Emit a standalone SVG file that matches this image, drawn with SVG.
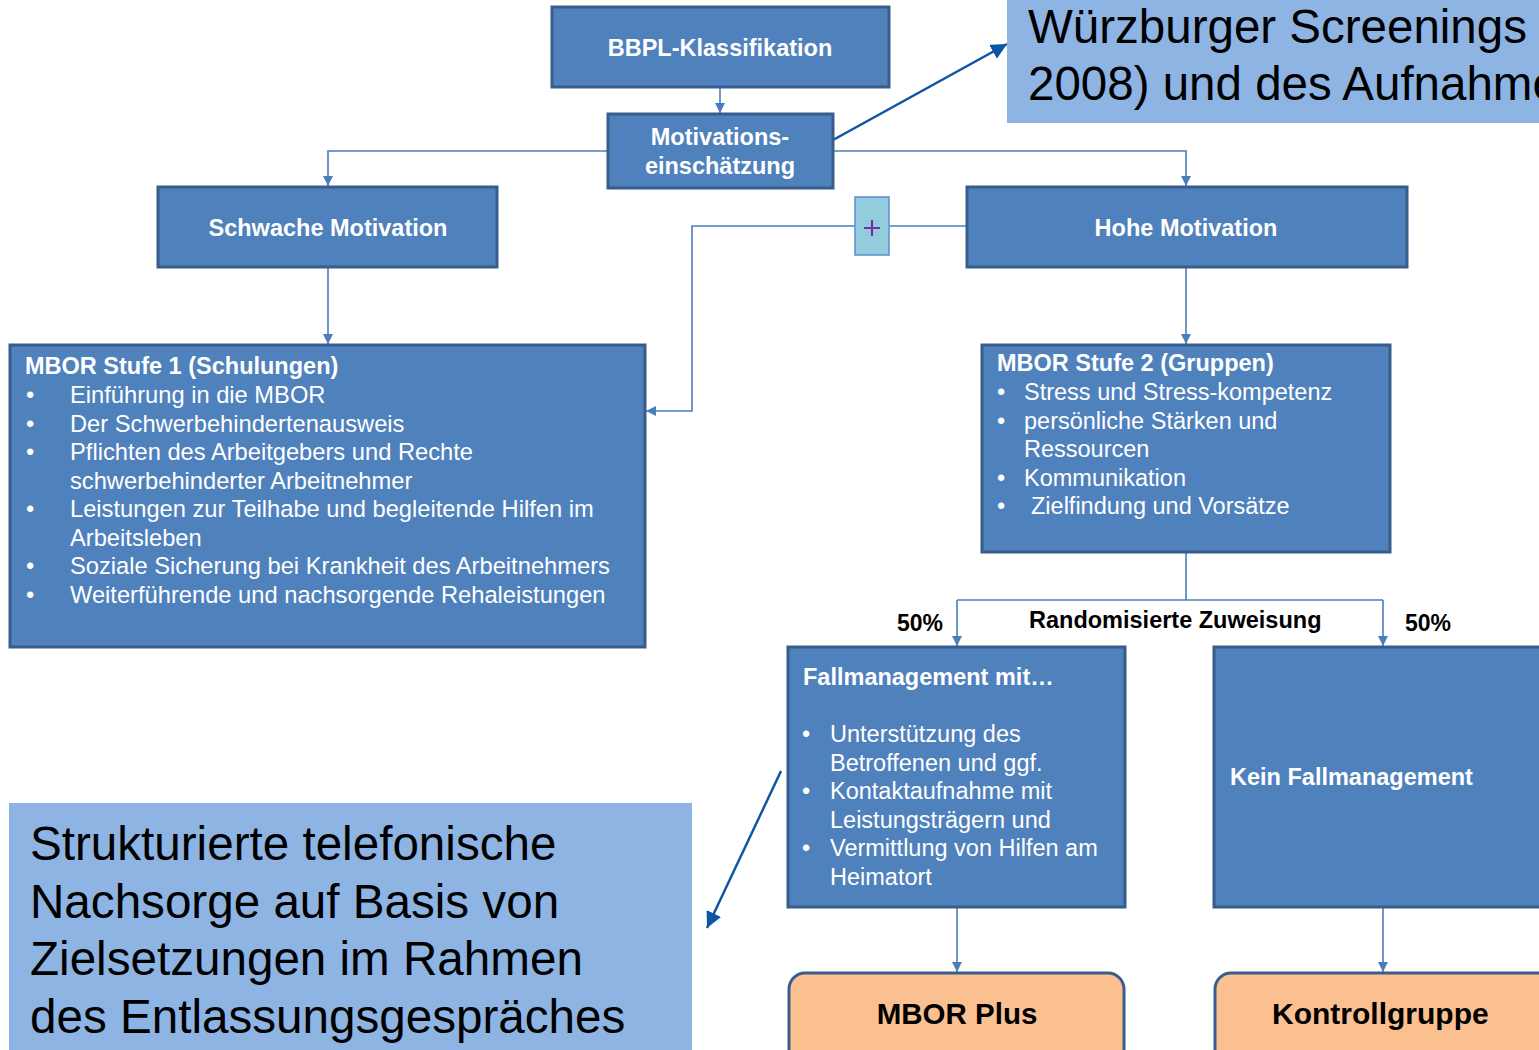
<svg xmlns="http://www.w3.org/2000/svg" width="1539" height="1050" viewBox="0 0 1539 1050">
<style>
.node{fill:#4f81bd;stroke:#385d8a;stroke-width:3}
.term{fill:#fac090;stroke:#385d8a;stroke-width:3}
.call{fill:#8db4e2}
.con{fill:none;stroke:#4a7ebb;stroke-width:1.6}
.cal{fill:none;stroke:#0d56a3;stroke-width:2.5}
.w{font-family:"Liberation Sans",Arial,sans-serif;fill:#fff;font-size:23.5px}
.s1{font-size:23.7px}
.b{font-weight:bold}
.k{font-family:"Liberation Sans",Arial,sans-serif;fill:#000}
.c{text-anchor:middle}
</style>
<defs>
<marker id="ar" viewBox="0 0 10 10" refX="10" refY="5" markerWidth="10" markerHeight="10" markerUnits="userSpaceOnUse" orient="auto"><path d="M0,0 L10,5 L0,10 z" fill="#4a7ebb"/></marker>
<marker id="ac" viewBox="0 0 10 10" refX="10" refY="5" markerWidth="16" markerHeight="16" markerUnits="userSpaceOnUse" orient="auto"><path d="M0,0 L10,5 L0,10 z" fill="#0d56a3"/></marker>
</defs>

<g id="connectors">
<path class="con" d="M720,87 V113" marker-end="url(#ar)"/>
<path class="con" d="M608,151 H328 V186" marker-end="url(#ar)"/>
<path class="con" d="M833,151 H1186 V186" marker-end="url(#ar)"/>
<path class="con" d="M328,267 V344" marker-end="url(#ar)"/>
<path class="con" d="M1186,267 V344" marker-end="url(#ar)"/>
<path class="con" d="M967,226 H889"/>
<path class="con" d="M855,226 H692 V411 H646" marker-end="url(#ar)"/>
<path class="con" d="M1186,552 V600"/>
<path class="con" d="M957,600 H1383"/>
<path class="con" d="M957,600 V646" marker-end="url(#ar)"/>
<path class="con" d="M1383,600 V646" marker-end="url(#ar)"/>
<path class="con" d="M957,907 V972" marker-end="url(#ar)"/>
<path class="con" d="M1383,907 V972" marker-end="url(#ar)"/>
<path class="cal" d="M833,140 L1007,44" marker-end="url(#ac)"/>
<path class="cal" d="M781,771 L707,928" marker-end="url(#ac)"/>
</g>

<g id="callout-top">
<rect class="call" x="1007" y="0" width="560" height="123"/>
<text class="k" x="1028" y="43" font-size="47.5">Würzburger Screenings</text>
<text class="k" x="1028" y="100" font-size="47.5">2008) und des Aufnahme</text>
</g>

<g id="bbpl">
<rect class="node" x="552" y="7" width="337" height="80"/>
<text class="w b c" x="720" y="56">BBPL-Klassifikation</text>
</g>

<g id="motivation">
<rect class="node" x="608" y="114" width="225" height="74"/>
<text class="w b c" x="720" y="145">Motivations-</text>
<text class="w b c" x="720" y="174">einschätzung</text>
</g>

<g id="schwach">
<rect class="node" x="158" y="187" width="339" height="80"/>
<text class="w b c" x="328" y="236">Schwache Motivation</text>
</g>

<g id="plus">
<rect x="855" y="197" width="34" height="58" fill="#93cddd" stroke="#5b8fcf" stroke-width="1.5"/>
<path d="M864,228 H880 M872,220 V236" stroke="#7030a0" stroke-width="2.2"/>
</g>

<g id="hoch">
<rect class="node" x="967" y="187" width="440" height="80"/>
<text class="w b c" x="1186" y="236">Hohe Motivation</text>
</g>

<g id="stufe1">
<rect class="node" x="10" y="345" width="635" height="302"/>
<text class="w b" x="25" y="374">MBOR Stufe 1 (Schulungen)</text>
<g class="w s1">
<text x="26" y="403">•</text><text x="70" y="403">Einführung in die MBOR</text>
<text x="26" y="432">•</text><text x="70" y="432">Der Schwerbehindertenausweis</text>
<text x="26" y="460">•</text><text x="70" y="460">Pflichten des Arbeitgebers und Rechte</text>
<text x="70" y="489">schwerbehinderter Arbeitnehmer</text>
<text x="26" y="517">•</text><text x="70" y="517">Leistungen zur Teilhabe und begleitende Hilfen im</text>
<text x="70" y="546">Arbeitsleben</text>
<text x="26" y="574">•</text><text x="70" y="574">Soziale Sicherung bei Krankheit des Arbeitnehmers</text>
<text x="26" y="603">•</text><text x="70" y="603">Weiterführende und nachsorgende Rehaleistungen</text>
</g>
</g>

<g id="stufe2">
<rect class="node" x="982" y="345" width="408" height="207"/>
<text class="w b" x="997" y="371">MBOR Stufe 2 (Gruppen)</text>
<g class="w">
<text x="997" y="400">•</text><text x="1024" y="400">Stress und Stress-kompetenz</text>
<text x="997" y="429">•</text><text x="1024" y="429">persönliche Stärken und</text>
<text x="1024" y="457">Ressourcen</text>
<text x="997" y="486">•</text><text x="1024" y="486">Kommunikation</text>
<text x="997" y="514">•</text><text x="1031" y="514">Zielfindung und Vorsätze</text>
</g>
</g>

<g id="labels">
<text class="k b" x="1029" y="628" font-size="23.5">Randomisierte Zuweisung</text>
<text class="k b" x="897" y="631" font-size="23">50%</text>
<text class="k b" x="1405" y="631" font-size="23">50%</text>
</g>

<g id="fallmanagement">
<rect class="node" x="788" y="647" width="337" height="260"/>
<text class="w b" x="803" y="685">Fallmanagement mit…</text>
<g class="w">
<text x="802" y="742">•</text><text x="830" y="742">Unterstützung des</text>
<text x="830" y="771">Betroffenen und ggf.</text>
<text x="802" y="799">•</text><text x="830" y="799">Kontaktaufnahme mit</text>
<text x="830" y="828">Leistungsträgern und</text>
<text x="802" y="856">•</text><text x="830" y="856">Vermittlung von Hilfen am</text>
<text x="830" y="885">Heimatort</text>
</g>
</g>

<g id="kein">
<rect class="node" x="1214" y="647" width="400" height="260"/>
<text class="w b" x="1230" y="785">Kein Fallmanagement</text>
</g>

<g id="mborplus">
<rect class="term" x="789" y="973" width="335" height="110" rx="16"/>
<text class="k b c" x="957" y="1024" font-size="29.5">MBOR Plus</text>
</g>

<g id="kontroll">
<rect class="term" x="1215" y="973" width="400" height="110" rx="16"/>
<text class="k b" x="1272" y="1024" font-size="30">Kontrollgruppe</text>
</g>

<g id="callout-bottom">
<rect class="call" x="9" y="803" width="683" height="260"/>
<text class="k" x="30" y="860" font-size="47.6">Strukturierte telefonische</text>
<text class="k" x="30" y="918" font-size="47.6">Nachsorge auf Basis von</text>
<text class="k" x="30" y="975" font-size="47.6">Zielsetzungen im Rahmen</text>
<text class="k" x="30" y="1033" font-size="47.6">des Entlassungsgespräches</text>
</g>
</svg>
